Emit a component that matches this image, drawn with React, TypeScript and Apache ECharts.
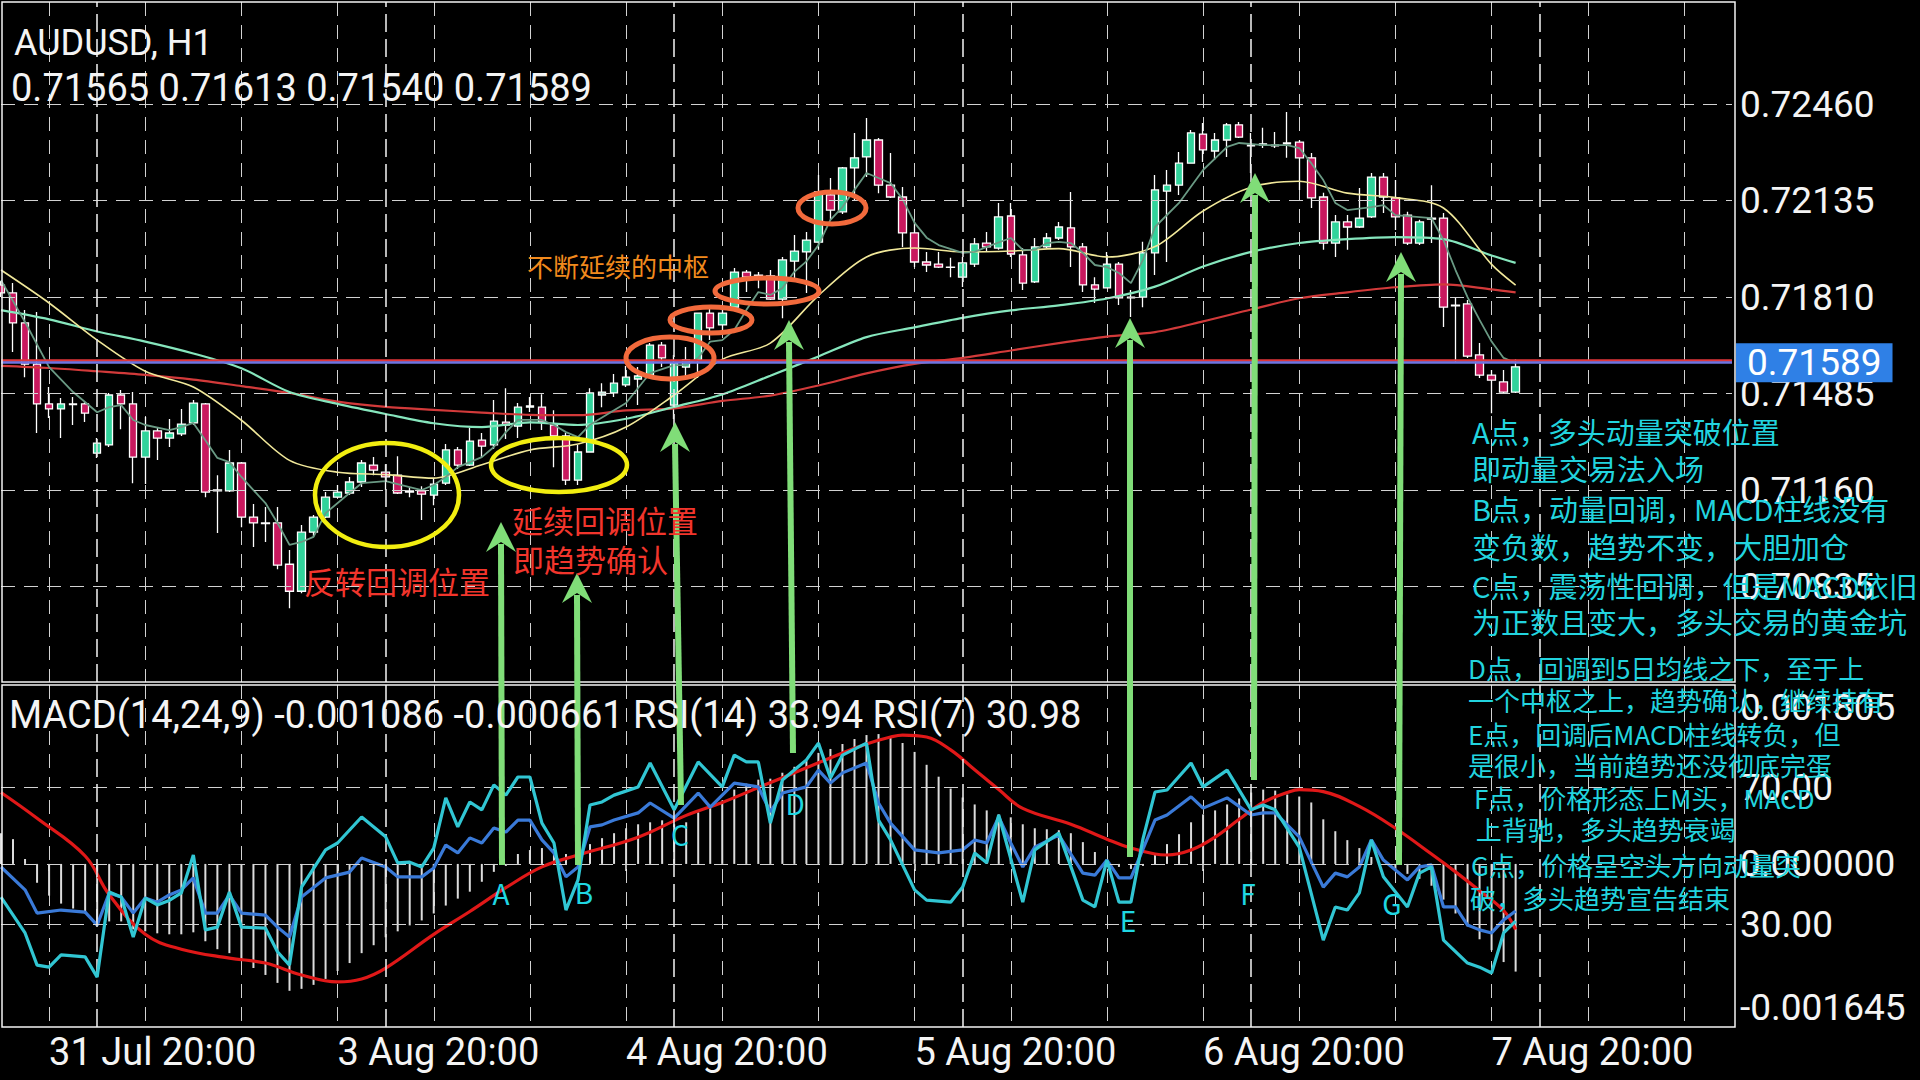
import React, { useEffect, useRef } from "react";
import * as echarts from "echarts";

// ---------- Candles (H1 bars, index 0 = 31 Jul 16:00) ----------
const opens = [0.71850,0.71824,0.71723,0.71584,0.71450,0.71433,0.71450,0.71450,0.71284,0.71312,
0.71480,0.71450,0.71271,0.71359,0.71335,0.71349,0.71386,0.71450,0.71160,0.71157,
0.71251,0.71069,0.71049,0.71049,0.70910,0.70819,0.71018,0.71069,0.71136,0.71150,
0.71187,0.71244,0.71220,0.71210,0.71157,0.71157,0.71143,0.71183,0.71295,0.71244,
0.71328,0.71312,0.71389,0.71375,0.71439,0.71439,0.71379,0.71342,0.71193,0.71288,
0.71480,0.71487,0.71514,0.71534,0.71547,0.71648,0.71446,0.71574,0.71598,0.71756,
0.71716,0.71776,0.71894,0.71884,0.71881,0.71803,0.71931,0.71962,0.71995,0.72154,
0.72097,0.72245,0.72282,0.72339,0.72187,0.72147,0.72026,0.71928,0.71921,0.71911,
0.71877,0.71921,0.71992,0.71975,0.72083,0.71952,0.71861,0.71979,0.72009,0.72043,
0.71979,0.71851,0.71841,0.71921,0.71807,0.71810,0.71959,0.72167,0.72187,0.72261,
0.72359,0.72302,0.72339,0.72390,0.72322,0.72322,0.72322,0.72326,0.72332,0.72279,
0.72147,0.71992,0.72063,0.72046,0.72080,0.72214,0.72144,0.72086,0.71992,0.72076,
0.72076,0.71783,0.71787,0.71615,0.71547,0.71524,0.71490];
const highs = [0.71864,0.71857,0.71766,0.71760,0.71507,0.71470,0.71473,0.71456,0.71335,0.71487,
0.71497,0.71490,0.71406,0.71372,0.71399,0.71433,0.71463,0.71453,0.71210,0.71295,
0.71254,0.71113,0.71103,0.71103,0.70958,0.71042,0.71076,0.71153,0.71177,0.71204,
0.71261,0.71271,0.71247,0.71274,0.71170,0.71173,0.71200,0.71315,0.71305,0.71369,
0.71352,0.71463,0.71503,0.71453,0.71473,0.71483,0.71429,0.71352,0.71312,0.71503,
0.71520,0.71551,0.71578,0.71574,0.71655,0.71659,0.71615,0.71642,0.71756,0.71773,
0.71773,0.71908,0.71901,0.71894,0.71901,0.71945,0.72019,0.72029,0.72221,0.72211,
0.72248,0.72363,0.72413,0.72346,0.72295,0.72181,0.72063,0.71962,0.71962,0.71942,
0.71945,0.72009,0.72029,0.72127,0.72127,0.71975,0.72009,0.72026,0.72063,0.72164,
0.71992,0.71877,0.71962,0.71928,0.71834,0.71996,0.72221,0.72238,0.72299,0.72373,
0.72396,0.72363,0.72396,0.72400,0.72363,0.72380,0.72366,0.72433,0.72339,0.72295,
0.72161,0.72086,0.72086,0.72177,0.72228,0.72228,0.72204,0.72097,0.72070,0.72187,
0.72093,0.71810,0.71800,0.71655,0.71564,0.71564,0.71600];
const lows = [0.71810,0.71625,0.71540,0.71352,0.71403,0.71335,0.71379,0.71389,0.71268,0.71305,
0.71365,0.71183,0.71180,0.71261,0.71305,0.71342,0.71379,0.71136,0.71015,0.71153,
0.71035,0.70968,0.70985,0.70893,0.70762,0.70812,0.71002,0.71066,0.71133,0.71143,
0.71170,0.71210,0.71160,0.71147,0.71136,0.71059,0.71109,0.71177,0.71231,0.71241,
0.71271,0.71298,0.71332,0.71335,0.71423,0.71362,0.71237,0.71177,0.71177,0.71288,
0.71439,0.71473,0.71507,0.71446,0.71544,0.71574,0.71399,0.71540,0.71537,0.71665,
0.71699,0.71773,0.71827,0.71840,0.71800,0.71739,0.71867,0.71824,0.71969,0.72070,
0.72090,0.72137,0.72214,0.72160,0.72144,0.71979,0.71911,0.71894,0.71908,0.71877,
0.71844,0.71911,0.71962,0.71969,0.71945,0.71834,0.71857,0.71975,0.72002,0.71911,
0.71827,0.71790,0.71841,0.71783,0.71743,0.71776,0.71884,0.71928,0.72154,0.72261,
0.72265,0.72272,0.72282,0.72346,0.72228,0.72312,0.72312,0.72279,0.72171,0.72110,
0.71969,0.71945,0.71969,0.72043,0.72076,0.72093,0.72036,0.71985,0.71985,0.71992,
0.71709,0.71588,0.71605,0.71537,0.71419,0.71487,0.71487];
const closes = [0.71824,0.71723,0.71584,0.71450,0.71433,0.71450,0.71448,0.71419,0.71318,0.71480,
0.71450,0.71271,0.71359,0.71335,0.71352,0.71382,0.71453,0.71153,0.71157,0.71251,
0.71069,0.71049,0.71047,0.70907,0.70819,0.71018,0.71069,0.71136,0.71153,0.71187,
0.71251,0.71227,0.71204,0.71150,0.71153,0.71146,0.71180,0.71295,0.71244,0.71325,
0.71308,0.71392,0.71379,0.71439,0.71443,0.71389,0.71342,0.71193,0.71288,0.71487,
0.71490,0.71520,0.71540,0.71544,0.71648,0.71605,0.71588,0.71598,0.71756,0.71706,
0.71756,0.71894,0.71877,0.71881,0.71803,0.71935,0.71965,0.72002,0.72164,0.72103,
0.72245,0.72279,0.72339,0.72187,0.72147,0.72026,0.71928,0.71918,0.71911,0.71910,
0.71925,0.71989,0.71979,0.72080,0.71955,0.71857,0.71979,0.72009,0.72046,0.71979,
0.71851,0.71837,0.71921,0.71807,0.71810,0.71959,0.72171,0.72187,0.72261,0.72363,
0.72306,0.72339,0.72390,0.72349,0.72319,0.72326,0.72319,0.72329,0.72279,0.72144,
0.71992,0.72063,0.72046,0.72076,0.72214,0.72147,0.72080,0.71992,0.72063,0.72073,
0.71776,0.71780,0.71611,0.71547,0.71530,0.71490,0.71575];

// ---------- Moving averages ([bar, price]) ----------
const maFast = [[0,.71867],[2,.71726],[4,.71574],[6,.71490],[8,.71422],[9,.71439],[10,.71446],[11,.71396],[12,.71379],[14,.71362],[15,.71372],[16,.71386],[17,.71328],[18,.71268],[19,.71254],[20,.71204],[21,.71160],[22,.71116],[23,.71049],[24,.70975],[25,.70985],[26,.71002],[27,.71082],[29,.71150],[30,.71183],[32,.71190],[34,.71170],[35,.71160],[36,.71177],[37,.71204],[38,.71237],[40,.71271],[41,.71305],[42,.71355],[43,.71396],[45,.71396],[46,.71379],[47,.71355],[48,.71338],[49,.71380],[52,.71453],[54,.71554],[56,.71581],[57,.71581],[58,.71605],[59,.71660],[60,.71665],[61,.71699],[62,.71766],[63,.71827],[64,.71817],[65,.71840],[66,.71895],[67,.71930],[68,.71985],[69,.72070],[70,.72113],[71,.72171],[72,.72228],[73,.72211],[74,.72194],[75,.72140],[76,.72060],[77,.72010],[78,.71985],[80,.71959],[81,.71962],[82,.71979],[84,.72009],[85,.71969],[86,.71969],[87,.71992],[88,.71996],[89,.71992],[90,.71959],[91,.71918],[92,.71911],[93,.71891],[94,.71857],[95,.71935],[96,.72046],[98,.72127],[100,.72238],[102,.72316],[103,.72329],[105,.72322],[107,.72322],[108,.72312],[109,.72261],[110,.72204],[111,.72127],[112,.72103],[114,.72113],[115,.72120],[116,.72086],[119,.72076],[120,.72002],[121,.71901],[122,.71810],[123,.71733],[124,.71660],[125,.71605],[126,.71588]];
const maYellow = [[0,.71901],[4,.71790],[8,.71665],[12,.71560],[16,.71507],[20,.71395],[24,.71260],[28,.71220],[32,.71212],[36,.71200],[40,.71245],[44,.71295],[48,.71315],[52,.71372],[56,.71480],[60,.71600],[64,.71655],[68,.71815],[72,.71945],[76,.71975],[80,.71962],[84,.71965],[88,.71973],[92,.71945],[96,.71980],[100,.72100],[104,.72180],[108,.72200],[112,.72160],[116,.72145],[120,.72110],[124,.71920],[126,.71850]];
const maMint = [[0,.71766],[4,.71735],[8,.71694],[12,.71660],[16,.71620],[20,.71570],[24,.71490],[28,.71450],[32,.71416],[36,.71385],[40,.71372],[44,.71388],[48,.71379],[52,.71400],[56,.71440],[60,.71482],[64,.71545],[68,.71610],[72,.71675],[76,.71708],[80,.71740],[84,.71765],[88,.71782],[92,.71805],[96,.71845],[100,.71913],[104,.71962],[108,.71992],[112,.72005],[116,.72012],[120,.72005],[124,.71950],[126,.71925]];
const maRed = [[0,.71578],[4,.71571],[8,.71560],[12,.71548],[16,.71532],[20,.71510],[24,.71487],[28,.71458],[32,.71440],[36,.71430],[40,.71421],[44,.71413],[48,.71412],[52,.71428],[56,.71435],[60,.71460],[64,.71478],[68,.71512],[72,.71553],[76,.71585],[80,.71605],[84,.71630],[88,.71655],[92,.71677],[96,.71692],[100,.71728],[104,.71768],[108,.71806],[112,.71826],[116,.71843],[120,.71853],[124,.71836],[126,.71826]];

// ---------- MACD(14,24,9) + RSI ----------
const macdMain = [0.00031,0.00025,0.00005,-0.00019,-0.00032,-0.00040,-0.00045,-0.00050,-0.00060,-0.00058,
-0.00058,-0.00066,-0.00068,-0.00070,-0.00071,-0.00071,-0.00069,-0.00078,-0.00086,-0.00090,
-0.00098,-0.00105,-0.00112,-0.00120,-0.00128,-0.00126,-0.00122,-0.00116,-0.00108,-0.00100,
-0.00090,-0.00082,-0.00074,-0.00068,-0.00062,-0.00057,-0.00050,-0.00042,-0.00035,-0.00028,
-0.00018,-0.00008,-0.00002,0.00010,0.00014,0.00016,0.00015,0.00010,0.00010,0.00020,
0.00026,0.00031,0.00036,0.00040,0.00042,0.00044,0.00040,0.00042,0.00052,0.00058,
0.00064,0.00075,0.00081,0.00085,0.00086,0.00092,0.00098,0.00104,0.00112,0.00116,
0.00121,0.00126,0.00130,0.00131,0.00128,0.00122,0.00113,0.00100,0.00088,0.00076,
0.00067,0.00060,0.00054,0.00050,0.00047,0.00040,0.00036,0.00035,0.00034,0.00031,
0.00022,0.00012,0.00004,-0.00003,-0.00005,-0.00002,0.00010,0.00020,0.00030,0.00042,
0.00050,0.00054,0.00060,0.00066,0.00072,0.00075,0.00074,0.00070,0.00068,0.00062,
0.00045,0.00033,0.00024,0.00016,0.00007,0.00000,-0.00005,-0.00010,-0.00015,-0.00022,
-0.00036,-0.00050,-0.00063,-0.00076,-0.00087,-0.00099,-0.001086];
const macdSignal = [[0,.00072],[3,.00046],[7,.00008],[9,-.00031],[12,-.00071],[15,-.00086],[19,-.00095],[22,-.00100],[25,-.00112],[28,-.00119],[30,-.00116],[32,-.00105],[36,-.00071],[39,-.00048],[42,-.00024],[45,-.00003],[48,.00009],[53,.00027],[57,.00049],[60,.00062],[63,.00077],[67,.00097],[70,.00112],[72,.00121],[74,.00128],[75,.00130],[77,.00128],[79,.00115],[81,.00095],[83,.00075],[85,.00056],[89,.00040],[92,.00025],[94,.00016],[96,.00010],[97,.00009],[99,.00014],[101,.00027],[103,.00045],[105,.00062],[107,.00072],[108,.00075],[110,.00073],[113,.00058],[116,.00036],[119,.00010],[121,-.00008],[123,-.00027],[125,-.00047],[126,-.000661]];
const rsi14 = [[0,46.8],[2,40.1],[3,33.3],[5,34.2],[7,33.6],[8,29.8],[9,39.2],[10,38.0],[11,33.3],[12,37.7],[13,36.5],[14,38.6],[15,40.1],[16,43.6],[17,33.3],[18,33.3],[19,38.6],[20,33.3],[22,32.7],[23,29.2],[24,26.3],[25,38.0],[27,43.6],[29,45.3],[30,49.4],[32,46.8],[33,43.9],[35,43.9],[36,46.5],[37,53.2],[38,50.9],[39,55.3],[40,53.8],[41,58.2],[42,57.0],[43,60.5],[44,60.5],[45,54.7],[46,50.9],[47,43.9],[48,46.8],[49,58.5],[50,59.1],[51,60.5],[53,62.6],[54,65.5],[56,61.1],[58,68.4],[59,64.3],[61,71.3],[63,70.2],[64,62.9],[65,68.4],[67,70.2],[68,75.1],[69,71.3],[70,74.3],[72,77.2],[73,65.5],[74,59.6],[76,51.8],[78,50.9],[80,51.8],[81,54.7],[82,53.8],[83,61.4],[84,53.8],[85,46.8],[86,52.6],[88,56.1],[90,45.0],[91,44.4],[92,48.8],[93,43.6],[94,43.6],[95,52.0],[96,60.5],[97,62.0],[99,67.3],[100,64.0],[102,67.0],[104,62.0],[105,62.6],[106,62.6],[108,55.6],[110,40.9],[111,45.0],[112,43.9],[113,46.8],[114,54.7],[115,48.8],[117,43.0],[118,46.8],[119,47.4],[120,35.1],[121,35.1],[122,29.8],[123,28.4],[124,27.5],[125,31.3],[126,33.94]];
const rsi7 = [[0,38.0],[2,27.5],[3,18.1],[4,17.5],[5,21.1],[7,20.5],[8,14.6],[9,39.5],[10,38.0],[11,26.3],[12,37.7],[13,35.7],[14,37.0],[15,39.2],[16,50.3],[17,28.4],[18,29.2],[19,39.5],[20,29.2],[22,28.9],[23,22.0],[24,18.1],[25,40.9],[27,51.8],[28,53.8],[30,61.4],[32,55.6],[33,48.0],[34,48.2],[35,46.8],[36,52.3],[37,67.0],[38,58.5],[39,65.8],[40,63.5],[41,70.8],[42,67.8],[43,73.1],[44,73.1],[45,59.6],[46,53.8],[47,34.2],[48,43.0],[49,64.9],[50,65.8],[51,67.8],[53,70.2],[54,77.2],[56,63.5],[58,77.5],[60,70.2],[61,79.5],[62,77.5],[63,77.5],[64,59.6],[65,72.2],[67,78.1],[68,83.0],[69,72.8],[70,79.5],[72,83.0],[73,60.5],[74,54.7],[76,40.1],[77,37.1],[79,36.5],[80,40.9],[81,50.9],[82,48.0],[83,62.0],[85,36.5],[86,51.8],[88,56.7],[90,37.1],[91,35.1],[92,48.8],[93,36.5],[94,36.5],[95,55.0],[96,68.7],[97,69.3],[99,77.2],[100,70.2],[102,75.1],[104,63.5],[105,64.9],[106,63.5],[108,52.6],[110,25.4],[111,35.1],[112,34.2],[113,39.2],[114,54.7],[115,43.9],[117,35.1],[118,45.0],[119,46.8],[120,25.4],[122,18.7],[123,17.5],[124,15.8],[125,27.5],[126,30.98]];

// ---------- Axes ----------
const priceTicks = [0.70835, 0.71160, 0.71485, 0.71810, 0.72135, 0.72460];
const priceMin = 0.705133;
const priceMax = 0.728039;
const macdMin = -0.001645;
const macdMax = 0.001805;
const macdTicks = [-0.001645, 0, 0.001805];
const rsiLevels = [30, 70];
const timeTickBars = [4, 28, 52, 76, 100, 124];
const timeTickLabels = ["31 Jul 20:00", "3 Aug 20:00", "4 Aug 20:00", "5 Aug 20:00", "6 Aug 20:00", "7 Aug 20:00"];
const daySepBars = [8, 32, 56, 80, 104, 128];
const bidPrice = 0.71589;
const askPrice = 0.71598;
const CATEGORY_COUNT = 145;

// ---------- Annotation texts ----------
const notesA = ["A点，多头动量突破位置", "即动量交易法入场", "B点，动量回调，MACD柱线没有", "变负数，趋势不变，大胆加仓", "C点，震荡性回调，但是MACD依旧", "为正数且变大，多头交易的黄金坑"];
const notesB = ["D点，回调到5日均线之下，至于上", "一个中枢之上，趋势确认，继续持有", "E点，回调后MACD柱线转负，但", "是很小，当前趋势还没彻底完蛋", "F点，价格形态上M头，MACD", " 上背驰，多头趋势衰竭", "G点，价格呈空头方向动量突", "破，多头趋势宣告结束"];

export default function App() {
  const ref = useRef<HTMLDivElement>(null);
  useEffect(() => {
    const el = ref.current!;
    const chart = echarts.init(el, null, { renderer: "svg" });
    const categories = Array.from({ length: CATEGORY_COUNT }, (_, i) => String(i));
    const isGridBar = (i: number) => i >= 4 && (i - 4) % 8 === 0;
    const isTimeTick = (i: number) => timeTickBars.indexOf(i) >= 0;
    const gridLine = { color: "#d2d2d2", width: 1, type: [14, 9] };
    const sepLine = { color: "#e6e6e6", width: 1.6, type: [18, 7] };
    const candleData = opens.map((o, i) => [o, closes[i], lows[i], highs[i]]);
    const WHITE = "#f4f4f4";
    const FONT = "Roboto";
    const CJK = "Noto Sans CJK SC";
    const GREEN = "#80dd78";

    const xBase = (gi: number) => ({
      type: "category",
      gridIndex: gi,
      data: categories,
      boundaryGap: false,
      axisLine: { show: false },
      axisTick: { show: false },
      axisLabel: { show: false },
      splitLine: { show: true, interval: (i: number) => isGridBar(i), lineStyle: gridLine },
    });

    const arrows = [
      { x0: 502, y0: 865, x1: 501, y1: 522 },
      { x0: 578, y0: 865, x1: 577, y1: 573 },
      { x0: 681, y0: 805, x1: 675, y1: 422 },
      { x0: 793, y0: 753, x1: 789, y1: 320 },
      { x0: 1130, y0: 857, x1: 1130, y1: 318 },
      { x0: 1254, y0: 780, x1: 1255, y1: 173 },
      { x0: 1399, y0: 865, x1: 1401, y1: 252 },
    ];
    const letters = [
      ["A", 501, 893], ["B", 584, 892], ["C", 680, 834], ["D", 795, 803],
      ["E", 1128, 920], ["F", 1248, 893], ["G", 1392, 903],
    ];

    const graphic: any[] = [];
    graphic.push({ type: "rect", z: 50, shape: { x: 2, y: 2, width: 1733, height: 680 }, style: { fill: "none", stroke: WHITE, lineWidth: 1.5 } });
    graphic.push({ type: "rect", z: 50, shape: { x: 2, y: 685, width: 1733, height: 342 }, style: { fill: "none", stroke: WHITE, lineWidth: 1.5 } });
    const txt = (text: string, x: number, y: number, size: number, fill: string, family = FONT, align = "left") => ({
      type: "text", z: 120, x, y,
      style: { text, fill, fontSize: size, fontFamily: family, align, verticalAlign: "middle" },
    });
    graphic.push(txt("AUDUSD, H1", 14, 43, 36, WHITE));
    graphic.push(txt("0.71565 0.71613 0.71540 0.71589", 11, 88, 38, WHITE));
    graphic.push(txt("MACD(14,24,9) -0.001086 -0.000661 RSI(14) 33.94 RSI(7) 30.98", 9, 715, 38, WHITE));

    const ell = (cx: number, cy: number, rx: number, ry: number, stroke: string, lw: number) => ({
      type: "ellipse", z: 110, shape: { cx, cy, rx, ry }, style: { fill: "none", stroke, lineWidth: lw },
    });
    graphic.push(ell(387, 495, 72, 52, "#f2ee10", 4.5));
    graphic.push(ell(559, 465, 68, 27, "#f2ee10", 4.5));
    graphic.push(ell(670, 358, 44, 21, "#f26a3c", 5));
    graphic.push(ell(711, 320, 41, 13, "#f26a3c", 5));
    graphic.push(ell(767, 291, 52, 13, "#f26a3c", 5));
    graphic.push(ell(832, 208, 34, 16, "#f26a3c", 5));

    arrows.forEach((a) => {
      graphic.push({ type: "line", z: 115, shape: { x1: a.x0, y1: a.y0, x2: a.x1, y2: a.y1 + 22 }, style: { stroke: GREEN, lineWidth: 6 } });
      graphic.push({
        type: "polygon", z: 115,
        shape: { points: [[a.x1, a.y1], [a.x1 + 15, a.y1 + 30], [a.x1, a.y1 + 20], [a.x1 - 15, a.y1 + 30]] },
        style: { fill: GREEN },
      });
    });
    letters.forEach((l) => graphic.push(txt(l[0] as string, l[1] as number, l[2] as number, 28, "#1fd6e2", CJK, "center")));

    graphic.push(txt("反转回调位置", 304, 580, 31, "#f2352c", CJK));
    graphic.push(txt("延续回调位置", 512, 519, 31, "#f2352c", CJK));
    graphic.push(txt("即趋势确认", 513, 558, 31, "#f2352c", CJK));
    graphic.push(txt("不断延续的中枢", 527, 265, 26, "#f28a1d", CJK));

    const aY = [431, 468, 508, 546, 585, 621];
    notesA.forEach((t, k) => graphic.push(txt(t, 1472, aY[k], 29, "#22d4df", CJK)));
    const bY = [667, 699, 733, 764, 797, 828, 864, 897];
    const bX = [1468, 1468, 1468, 1468, 1474, 1470, 1471, 1470];
    notesB.forEach((t, k) => graphic.push(txt(t, bX[k], bY[k], 26, "#22d4df", CJK)));

    const option: any = {
      animation: false,
      backgroundColor: "#000000",
      textStyle: { fontFamily: FONT },
      grid: [
        { left: 1, top: 2, width: 1731, height: 680 },
        { left: 1, top: 685, width: 1731, height: 342 },
      ],
      xAxis: [
        xBase(0),
        {
          ...xBase(1),
          axisTick: { show: true, interval: (i: number) => isTimeTick(i), length: 7, lineStyle: { color: WHITE, width: 1.5 } },
          axisLabel: {
            show: true,
            interval: (i: number) => isTimeTick(i),
            formatter: (v: string) => {
              const k = timeTickBars.indexOf(Number(v));
              return k >= 0 ? timeTickLabels[k] : "";
            },
            align: "left",
            margin: 6,
            color: WHITE,
            fontSize: 38,
            fontFamily: FONT,
          },
        },
      ],
      yAxis: [
        {
          type: "value", gridIndex: 0, position: "right", min: priceMin, max: priceMax,
          splitLine: { show: false }, axisLine: { show: false }, axisTick: { show: false },
          axisLabel: { customValues: priceTicks, formatter: (v: number) => v.toFixed(5), color: WHITE, fontSize: 37, fontFamily: FONT, margin: 8 },
        },
        {
          type: "value", gridIndex: 1, position: "right", min: macdMin, max: macdMax,
          splitLine: { show: false }, axisLine: { show: false }, axisTick: { show: false },
          axisLabel: {
            customValues: macdTicks,
            formatter: (v: number) => {
              const s = v.toFixed(6);
              if (v > 0.0015) return "{t|" + s + "}";
              if (v < -0.0015) return "{b|" + s + "}";
              return s;
            },
            rich: {
              t: { padding: [44, 0, 0, 0], fontSize: 37, color: WHITE, fontFamily: FONT },
              b: { padding: [0, 0, 40, 0], fontSize: 37, color: WHITE, fontFamily: FONT },
            },
            color: WHITE, fontSize: 37, fontFamily: FONT, margin: 8,
          },
        },
        {
          type: "value", gridIndex: 1, position: "right", min: 0, max: 100,
          splitLine: { show: false }, axisLine: { show: false }, axisTick: { show: false },
          axisLabel: { customValues: rsiLevels, formatter: (v: number) => v.toFixed(2), color: WHITE, fontSize: 37, fontFamily: FONT, margin: 8 },
        },
      ],
      series: [
        {
          type: "line", xAxisIndex: 0, yAxisIndex: 0, data: [], z: 1, silent: true,
          markLine: {
            silent: true, precision: 8, symbol: ["none", "none"], label: { show: false }, lineStyle: gridLine,
            data: [
              ...priceTicks.map((p) => ({ yAxis: p })),
              ...daySepBars.map((b) => ({ xAxis: b, lineStyle: sepLine })),
            ],
          },
        },
        {
          type: "candlestick", xAxisIndex: 0, yAxisIndex: 0, data: candleData, barWidth: 8, z: 3,
          itemStyle: { color: "#31d39b", color0: "#c8185e", borderColor: "#ffffff", borderColor0: "#ffffff", borderWidth: 1.3 },
        },
        { type: "line", xAxisIndex: 0, yAxisIndex: 0, data: maRed, z: 4, symbol: "none", smooth: 0.3, lineStyle: { color: "#d23a3a", width: 2.2 } },
        { type: "line", xAxisIndex: 0, yAxisIndex: 0, data: maMint, z: 4, symbol: "none", smooth: 0.3, lineStyle: { color: "#86e6bd", width: 2.2 } },
        { type: "line", xAxisIndex: 0, yAxisIndex: 0, data: maYellow, z: 4, symbol: "none", smooth: 0.3, lineStyle: { color: "#f1e89a", width: 1.6 } },
        { type: "line", xAxisIndex: 0, yAxisIndex: 0, data: maFast, z: 4, symbol: "none", lineStyle: { color: "#6a9a84", width: 1.8 } },
        {
          type: "line", xAxisIndex: 0, yAxisIndex: 0, data: [], z: 6, silent: true,
          markLine: {
            silent: true, precision: 8, symbol: ["none", "none"],
            data: [
              { yAxis: askPrice, lineStyle: { color: "#e0363a", width: 2.5, type: "solid" }, label: { show: false } },
              {
                yAxis: bidPrice, lineStyle: { color: "#6e74e2", width: 2.5, type: "solid" },
                label: {
                  show: true, position: "end", formatter: bidPrice.toFixed(5), distance: 4,
                  color: "#ffffff", fontSize: 37, fontFamily: FONT, backgroundColor: "#2f80e6", padding: [2, 11, 0, 11],
                },
              },
            ],
          },
        },
        {
          type: "line", xAxisIndex: 1, yAxisIndex: 2, data: [], z: 1, silent: true,
          markLine: {
            silent: true, precision: 8, symbol: ["none", "none"], label: { show: false }, lineStyle: gridLine,
            data: [
              ...rsiLevels.map((r) => ({ yAxis: r })),
              ...daySepBars.map((b) => ({ xAxis: b, lineStyle: sepLine })),
            ],
          },
        },
        {
          type: "line", xAxisIndex: 1, yAxisIndex: 1, data: [], z: 1, silent: true,
          markLine: { silent: true, precision: 8, symbol: ["none", "none"], label: { show: false }, lineStyle: gridLine, data: [{ yAxis: 0 }] },
        },
        { type: "bar", xAxisIndex: 1, yAxisIndex: 1, data: macdMain, barWidth: 2, z: 2, itemStyle: { color: "#dcdcdc" } },
        { type: "line", xAxisIndex: 1, yAxisIndex: 1, data: macdSignal, z: 3, symbol: "none", smooth: 0.4, lineStyle: { color: "#e01818", width: 3.2 } },
        { type: "line", xAxisIndex: 1, yAxisIndex: 2, data: rsi14, z: 4, symbol: "none", lineStyle: { color: "#3a7ad8", width: 3.2 } },
        { type: "line", xAxisIndex: 1, yAxisIndex: 2, data: rsi7, z: 5, symbol: "none", lineStyle: { color: "#31c6d3", width: 3.2 } },
      ],
      graphic,
    };
    chart.setOption(option);
    return () => chart.dispose();
  }, []);
  return (
    <div
      ref={ref}
      style={{ position: "fixed", left: 0, top: 0, width: 1920, height: 1080, background: "#000" }}
    />
  );
}
